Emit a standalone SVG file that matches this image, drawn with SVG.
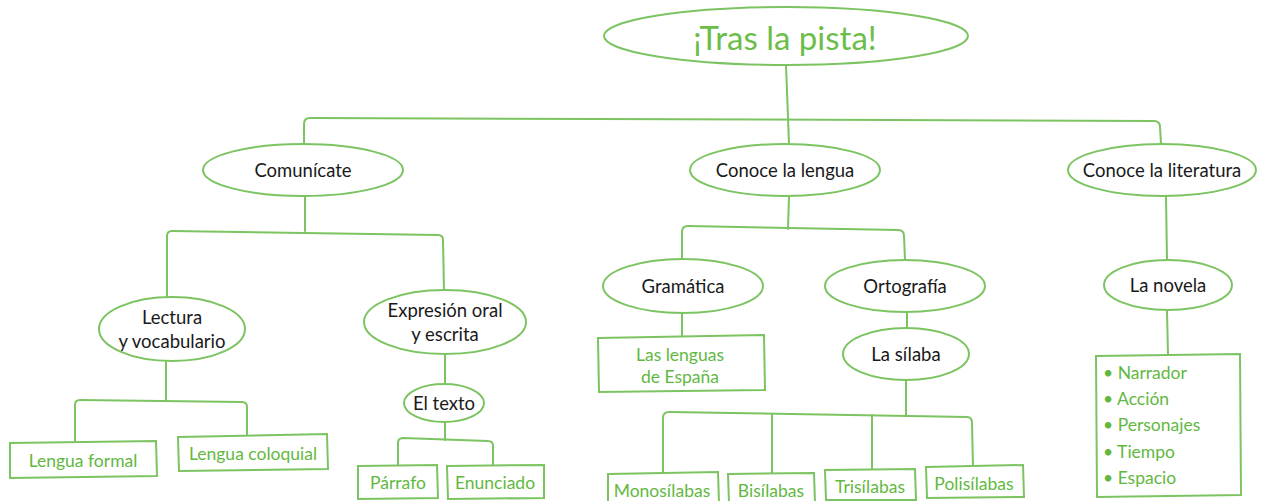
<svg xmlns="http://www.w3.org/2000/svg" width="1269" height="501" viewBox="0 0 1269 501">
<style>
.n{fill:#fff;stroke:#7cc462;stroke-width:2}
.c{fill:none;stroke:#7cc462;stroke-width:2;stroke-linejoin:round;stroke-linecap:round}
.t{font-family:Lato,"Noto Sans",sans-serif;font-size:18.5px;fill:#1a1a1a;text-anchor:middle;dominant-baseline:central}
.g{font-family:Lato,"Noto Sans",sans-serif;font-size:17.5px;fill:#62b83f;text-anchor:middle;dominant-baseline:central}
.gl{font-family:Lato,"Noto Sans",sans-serif;font-size:17.5px;fill:#62b83f}
.title{font-family:Lato,"Noto Sans",sans-serif;font-size:33px;fill:#6cbd4a;text-anchor:middle;dominant-baseline:central}
</style>
<rect width="1269" height="501" fill="#fff"/>
<g id="connectors">
<path class="c" d="M786,65 L789,144"/>
<path class="c" d="M304,144 L304,124 Q304,118 310,118 L1154,121 Q1160,121 1160,127 L1161,144"/>
<path class="c" d="M305,196 L305,231"/>
<path class="c" d="M167,297 L167,236 Q167,231 172,231 L438,235 Q443,235 443,240 L444,291"/>
<path class="c" d="M166,361 L166,401"/>
<path class="c" d="M75,442 L75,405 Q75,400 80,400 L242,402 Q247,402 247,407 L247,436"/>
<path class="c" d="M445,354 L445,385"/>
<path class="c" d="M445,422 L445,440"/>
<path class="c" d="M398,465 L398,443 Q398,438 403,438 L488,441 Q493,441 493,446 L493,465"/>
<path class="c" d="M789,196 L788,229"/>
<path class="c" d="M682,260 L682,232 Q682,226 688,226 L898,230 Q904,230 904,236 L905,260"/>
<path class="c" d="M682,313 L682,336"/>
<path class="c" d="M907,312 L907,328"/>
<path class="c" d="M906,380 L906,416"/>
<path class="c" d="M663,473 L663,418 Q663,412 669,412 L967,417 Q972,417 972,423 L973,467"/>
<path class="c" d="M772,414 L772,473"/>
<path class="c" d="M872,415 L872,470"/>
<path class="c" d="M1166,196 L1167,260"/>
<path class="c" d="M1167,310 L1168,355"/>
</g>
<g id="root"><ellipse class="n" cx="786" cy="36" rx="182" ry="29"/><text class="title" x="785" y="37">¡Tras la pista!</text></g>
<g id="comunicate"><ellipse class="n" cx="303" cy="170" rx="100" ry="26"/><text class="t" x="303" y="170">Comunícate</text></g>
<g id="conoce-lengua"><ellipse class="n" cx="785" cy="170" rx="95" ry="26"/><text class="t" x="785" y="170">Conoce la lengua</text></g>
<g id="conoce-literatura"><ellipse class="n" cx="1162" cy="170" rx="94" ry="26"/><text class="t" x="1162" y="170">Conoce la literatura</text></g>
<g id="lectura"><ellipse class="n" cx="172" cy="329" rx="73" ry="32"/><text class="t" x="172" y="317">Lectura</text><text class="t" x="172" y="341">y vocabulario</text></g>
<g id="expresion"><ellipse class="n" cx="445" cy="322" rx="81" ry="32"/><text class="t" x="445" y="310">Expresión oral</text><text class="t" x="445" y="334">y escrita</text></g>
<g id="el-texto"><ellipse class="n" cx="444" cy="403" rx="40" ry="19"/><text class="t" x="444" y="403">El texto</text></g>
<g id="gramatica"><ellipse class="n" cx="683" cy="286" rx="80" ry="27"/><text class="t" x="683" y="286">Gramática</text></g>
<g id="ortografia"><ellipse class="n" cx="905" cy="286" rx="80" ry="26"/><text class="t" x="905" y="286">Ortografía</text></g>
<g id="la-silaba"><ellipse class="n" cx="906" cy="354" rx="63" ry="26"/><text class="t" x="906" y="354">La sílaba</text></g>
<g id="la-novela"><ellipse class="n" cx="1168" cy="285" rx="64" ry="25"/><text class="t" x="1168" y="285">La novela</text></g>
<g id="lengua-formal"><polygon class="n" points="10,443 156,441 157,476 10,478"/><text class="g" x="83" y="460">Lengua formal</text></g>
<g id="lengua-coloquial"><polygon class="n" points="178,437 327,434 328,469 179,471"/><text class="g" x="253" y="453">Lengua coloquial</text></g>
<g id="parrafo"><polygon class="n" points="358,466 437,465 438,498 358,499"/><text class="g" x="398" y="482">Párrafo</text></g>
<g id="enunciado"><polygon class="n" points="447,466 544,465 544,498 448,499"/><text class="g" x="495" y="482">Enunciado</text></g>
<g id="lenguas-espana"><polygon class="n" points="598,338 764,335 765,390 599,392"/><text class="g" x="680" y="354">Las lenguas</text><text class="g" x="680" y="376">de España</text></g>
<g id="monosilabas"><polygon class="n" points="608,474 718,472 719,503 608,503"/><text class="g" x="662" y="490">Monosílabas</text></g>
<g id="bisilabas"><polygon class="n" points="728,474 814,473 815,503 729,503"/><text class="g" x="771" y="490">Bisílabas</text></g>
<g id="trisilabas"><polygon class="n" points="825,470 915,469 916,500 826,500"/><text class="g" x="870" y="486">Trisílabas</text></g>
<g id="polisilabas"><polygon class="n" points="926,467 1023,465 1024,497 927,498"/><text class="g" x="974" y="483">Polisílabas</text></g>
<g id="novela-lista"><polygon class="n" points="1096,356 1240,354 1241,495 1097,497"/>
<text class="gl" x="1103" y="379">• Narrador</text>
<text class="gl" x="1103" y="405">• Acción</text>
<text class="gl" x="1103" y="431">• Personajes</text>
<text class="gl" x="1103" y="458">• Tiempo</text>
<text class="gl" x="1103" y="484">• Espacio</text>
</g>
</svg>
